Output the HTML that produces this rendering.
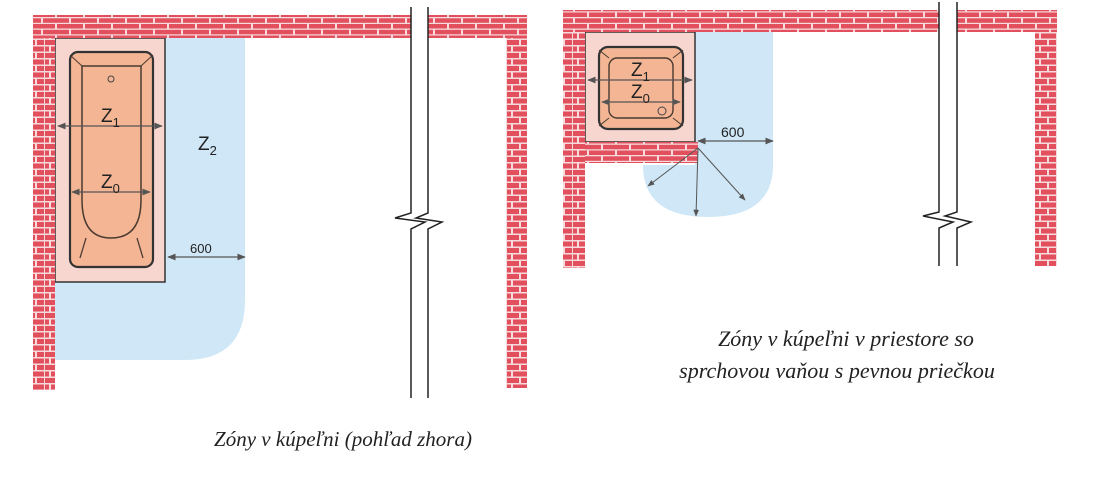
<!DOCTYPE html>
<html><head><meta charset="utf-8"><style>
html,body{margin:0;padding:0;background:#fff;width:1102px;height:500px;overflow:hidden}
</style></head><body>
<svg width="1102" height="500" viewBox="0 0 1102 500" xmlns="http://www.w3.org/2000/svg" font-family="Liberation Sans, sans-serif">
<defs>
<pattern id="br" width="28" height="11.5" patternUnits="userSpaceOnUse">
<rect width="28" height="11.5" fill="#f6dadc"/>
<rect x="1" y="1" width="26" height="4.5" fill="#e2505e"/>
<rect x="-13" y="6.8" width="26" height="4.5" fill="#e2505e"/>
<rect x="15" y="6.8" width="26" height="4.5" fill="#e2505e"/>
</pattern>
<pattern id="bv" width="22" height="13" patternUnits="userSpaceOnUse">
<rect width="22" height="13" fill="#f6dadc"/>
<rect x="1" y="1" width="12" height="5" fill="#e2505e"/>
<rect x="15" y="1" width="7" height="5" fill="#e2505e"/>
<rect x="1" y="7.5" width="4" height="5" fill="#e2505e"/>
<rect x="7" y="7.5" width="15" height="5" fill="#e2505e"/>
</pattern>
<marker id="ah" viewBox="0 0 10 10" refX="9" refY="5" markerWidth="7" markerHeight="7" orient="auto-start-reverse"><path d="M0,1 L10,5 L0,9 Z" fill="#555"/></marker>
</defs>

<!-- LEFT DIAGRAM -->
<path d="M165,38 H245 V300 Q245,360 185,360 H55 V282 H165 Z" fill="#cfe7f6"/>
<rect x="55" y="38" width="110" height="244" fill="#f6d6cf" stroke="#333" stroke-width="1.5"/>
<rect x="33" y="15" width="378" height="23" fill="url(#br)"/>
<rect x="428" y="15" width="99" height="23" fill="url(#br)"/>
<rect x="33" y="38" width="22" height="352" fill="url(#bv)"/>
<rect x="506" y="38" width="21" height="350" fill="url(#bv)"/>
<rect x="70" y="52" width="83" height="215" rx="8" fill="#f3b594" stroke="#333" stroke-width="2.2"/>
<path d="M82,66 H141 V200 Q141,238 111,238 Q82,238 82,200 Z" fill="none" stroke="#4a3a30" stroke-width="1.5"/>
<line x1="70" y1="55" x2="82" y2="66" stroke="#4a3a30"/><line x1="153" y1="55" x2="141" y2="66" stroke="#4a3a30"/>
<line x1="86" y1="238" x2="80" y2="258" stroke="#4a3a30" stroke-width="1.3"/><line x1="137" y1="238" x2="143" y2="258" stroke="#4a3a30" stroke-width="1.3"/>
<circle cx="111" cy="79" r="3" fill="none" stroke="#444"/>
<line x1="58" y1="126" x2="162" y2="126" stroke="#555" stroke-width="1.2" marker-start="url(#ah)" marker-end="url(#ah)"/>
<text x="101" y="122" font-size="19" fill="#222">Z<tspan font-size="13" dy="5">1</tspan></text>
<line x1="72" y1="192" x2="150" y2="192" stroke="#555" stroke-width="1.2" marker-start="url(#ah)" marker-end="url(#ah)"/>
<text x="101" y="188" font-size="19" fill="#222">Z<tspan font-size="13" dy="5">0</tspan></text>
<text x="198" y="150" font-size="19" fill="#222">Z<tspan font-size="13" dy="5">2</tspan></text>
<line x1="168" y1="257" x2="245" y2="257" stroke="#555" stroke-width="1.2" marker-start="url(#ah)" marker-end="url(#ah)"/>
<text x="190" y="253" font-size="13" fill="#222">600</text>
<path d="M411,7 V213 L395,218 L425,222 L411,229 V398 M428,7 V213 L416,218 L442,222 L428,229 V398" fill="none" stroke="#222" stroke-width="1.5"/>

<!-- RIGHT DIAGRAM -->
<path d="M695,32 H773 V165 Q773,217 708,217 Q643,217 643,165 H695 Z" fill="#cfe7f6"/>
<rect x="585" y="32" width="110" height="110" fill="#f6d6cf" stroke="#333" stroke-width="1.5"/>
<rect x="563" y="10" width="376" height="22" fill="url(#br)"/>
<rect x="957" y="10" width="100" height="22" fill="url(#br)"/>
<rect x="563" y="32" width="22" height="236" fill="url(#bv)"/>
<rect x="585" y="142" width="113" height="21" fill="url(#br)"/>
<rect x="1035" y="32" width="22" height="234" fill="url(#bv)"/>
<rect x="599" y="47" width="84" height="82" rx="9" fill="#f3b594" stroke="#333" stroke-width="2.2"/>
<rect x="609" y="58" width="64" height="60" rx="8" fill="none" stroke="#4a3a30" stroke-width="1.4"/>
<line x1="599" y1="50" x2="609" y2="58" stroke="#4a3a30"/><line x1="683" y1="50" x2="673" y2="58" stroke="#4a3a30"/>
<line x1="599" y1="126" x2="609" y2="118" stroke="#4a3a30"/><line x1="683" y1="126" x2="673" y2="118" stroke="#4a3a30"/>
<circle cx="662" cy="111" r="4" fill="none" stroke="#444"/>
<line x1="588" y1="80" x2="692" y2="80" stroke="#555" stroke-width="1.2" marker-start="url(#ah)" marker-end="url(#ah)"/>
<text x="631" y="76" font-size="19" fill="#222">Z<tspan font-size="13" dy="5">1</tspan></text>
<line x1="602" y1="102" x2="680" y2="102" stroke="#555" stroke-width="1.2" marker-start="url(#ah)" marker-end="url(#ah)"/>
<text x="631" y="98" font-size="19" fill="#222">Z<tspan font-size="13" dy="5">0</tspan></text>
<line x1="698" y1="141" x2="773" y2="141" stroke="#555" stroke-width="1.2" marker-start="url(#ah)" marker-end="url(#ah)"/>
<text x="721" y="137" font-size="14" fill="#222">600</text>
<g stroke="#555" stroke-width="1" fill="none">
<line x1="698" y1="148" x2="648" y2="186" marker-end="url(#ah)"/>
<line x1="698" y1="148" x2="696" y2="216" marker-end="url(#ah)"/>
<line x1="698" y1="148" x2="745" y2="200" marker-end="url(#ah)"/>
</g>
<path d="M939,2 V212 L923,216 L953,222 L939,228 V266 M957,2 V212 L945,216 L971,222 L957,228 V266" fill="none" stroke="#222" stroke-width="1.5"/>

<g font-family="Liberation Serif, serif" font-style="italic" font-size="21" fill="#222">
<text x="343" y="446" text-anchor="middle">Zóny v kúpeľni (pohľad zhora)</text>
<text x="846" y="346" text-anchor="middle" font-size="22">Zóny v kúpeľni v priestore so</text>
<text x="837" y="378" text-anchor="middle" font-size="22">sprchovou vaňou s pevnou priečkou</text>
</g>
</svg>
</body></html>
